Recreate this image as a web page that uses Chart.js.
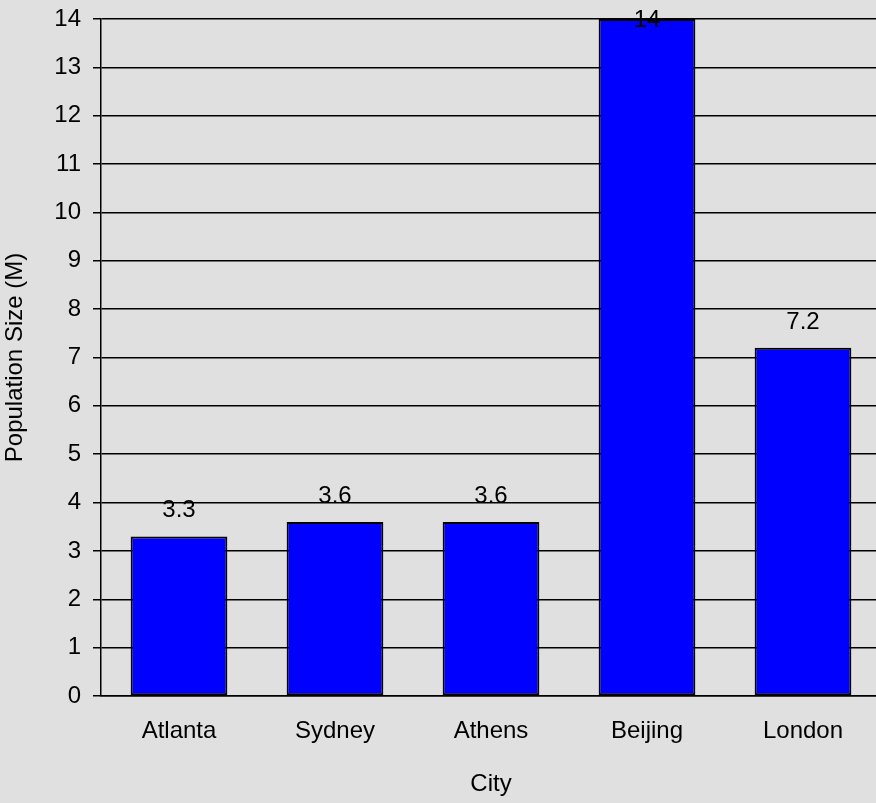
<!DOCTYPE html>
<html>
<head>
<meta charset="utf-8">
<script src="https://cdn.jsdelivr.net/npm/chart.js@4"></script>
<style>
  html, body { margin: 0; padding: 0; background: #e0e0e0; overflow: hidden; }
  #wrap { width: 884px; height: 803px; }
</style>
</head>
<body>
<div id="wrap"><canvas id="chart" width="884" height="803"></canvas></div>
<script>
const cities = ["Atlanta", "Sydney", "Athens", "Beijing", "London"];
const population = [3.3, 3.6, 3.6, 14, 7.2];
const valueLabels = ["3.3", "3.6", "3.6", "14", "7.2"];

const FONT = "'Liberation Sans', Arial, sans-serif";

// labels above each bar, kept inside the canvas at the top
const barLabels = {
    id: "barLabels",
    afterDatasetsDraw(chart) {
        const ctx = chart.ctx;
        const meta = chart.getDatasetMeta(0);
        ctx.save();
        ctx.font = `24px ${FONT}`;
        ctx.fillStyle = "#000";
        ctx.textAlign = "center";
        ctx.textBaseline = "alphabetic";
        meta.data.forEach((bar, i) => {
            const y = Math.max(bar.y - 19, 27);
            ctx.fillText(valueLabels[i], bar.x, y);
        });
        ctx.restore();
    }
};

const ctx = document.getElementById("chart").getContext("2d");
new Chart(ctx, {
    type: "bar",
    data: {
        labels: cities,
        datasets: [{
            data: population,
            backgroundColor: "#0000ff",
            borderColor: "#000",
            borderWidth: 2,
            borderSkipped: false,
            barPercentage: 0.62,
            categoryPercentage: 1
        }]
    },
    options: {
        responsive: false,
        animation: false,
        layout: { padding: { top: 19, right: 3, left: 0, bottom: 0 } },
        plugins: {
            legend: { display: false },
            tooltip: { enabled: false }
        },
        scales: {
            x: {
                grid: { display: false },
                border: { display: true, color: "#000", width: 1.5 },
                ticks: { color: "#000", font: { family: FONT, size: 24 }, padding: 13, maxRotation: 0 },
                title: {
                    display: true,
                    text: "City",
                    color: "#000",
                    font: { family: FONT, size: 24, lineHeight: 1 },
                    padding: { top: 0, bottom: 7 }
                },
                afterFit: (scale) => { scale.height = 107; }
            },
            y: {
                min: 0,
                max: 14,
                grid: { color: "#000", lineWidth: 1.5, drawTicks: true, tickLength: 8, tickColor: "#000" },
                border: { display: true, color: "#000", width: 1.5 },
                ticks: { stepSize: 1, color: "#000", font: { family: FONT, size: 24 }, padding: 12 },
                title: {
                    display: true,
                    text: "Population Size (M)",
                    color: "#000",
                    font: { family: FONT, size: 24, lineHeight: 1 },
                    padding: { top: 3, bottom: 0 }
                },
                afterFit: (scale) => {
                    scale.width = 101;
                    scale.paddingTop = 0;
                    scale.paddingBottom = 0;
                }
            }
        }
    },
    plugins: [barLabels]
});
</script>
</body>
</html>
